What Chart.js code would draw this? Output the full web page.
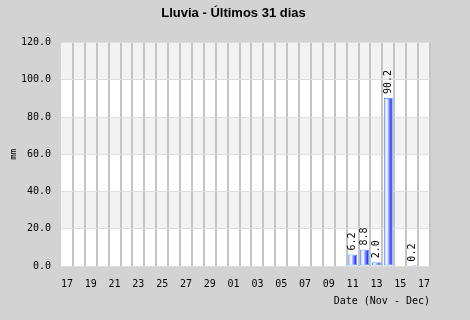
<html>
<head>
    <script src="https://cdn.jsdelivr.net/npm/chart.js"></script>
    <style>
        body { margin: 0; background: #d3d3d3; }
        #wrap { width: 470px; height: 320px; }
    </style>
</head>
<body>
    <div id="wrap"><canvas id="rainChart"></canvas></div>
    <script>
        // dias (17 nov - 17 dic)
        const days = ['17','18','19','20','21','22','23','24','25','26','27','28','29','30',
                      '01','02','03','04','05','06','07','08','09','10','11','12','13','14','15','16','17'];
        // lluvia diaria en mm
        const rain = [0,0,0,0,0,0,0,0,0,0,0,0,0,0,
                      0,0,0,0,0,0,0,0,0,0,6.2,8.8,2.0,90.2,0,0.2,0];
        const yTicks = [0, 20, 40, 60, 80, 100, 120];

        const mono = 'DejaVu Sans Mono';

        // fondo + bandas grises alternas
        const bandsPlugin = {
            id: 'bands',
            beforeDraw(chart) {
                const { ctx, chartArea: a, scales: { y } } = chart;
                ctx.save();
                ctx.fillStyle = '#d3d3d3';
                ctx.fillRect(0, 0, chart.width, chart.height);
                for (let i = 0; i < yTicks.length - 1; i++) {
                    const top = y.getPixelForValue(yTicks[i + 1]);
                    const bot = y.getPixelForValue(yTicks[i]);
                    ctx.fillStyle = (i % 2 == 1) ? '#f2f2f2' : '#ffffff';
                    ctx.fillRect(a.left, top, a.right - a.left, bot - top);
                }
                ctx.restore();
            }
        };

        // valores en vertical encima de las barras
        const valuePlugin = {
            id: 'values',
            afterDatasetsDraw(chart) {
                const { ctx } = chart;
                const meta = chart.getDatasetMeta(0);
                ctx.save();
                ctx.font = '10px "' + mono + '"';
                ctx.fillStyle = '#000';
                ctx.textAlign = 'left';
                ctx.textBaseline = 'middle';
                meta.data.forEach((bar, i) => {
                    if (!rain[i]) return;
                    ctx.save();
                    ctx.translate(bar.x, bar.y - 4);
                    ctx.rotate(-Math.PI / 2);
                    ctx.fillText(rain[i].toFixed(1), 0, 0);
                    ctx.restore();
                });
                ctx.restore();
            }
        };

        function barFill(c) {
            const chart = c.chart;
            if (!chart.chartArea) return '#6677ff';
            const x = chart.scales.x.getPixelForValue(c.dataIndex);
            const w = (chart.chartArea.right - chart.chartArea.left) / days.length * 0.75;
            const g = chart.ctx.createLinearGradient(x - w / 2, 0, x + w / 2, 0);
            g.addColorStop(0, '#8890ff');
            g.addColorStop(0.2, '#e6e6ff');
            g.addColorStop(0.35, '#ffffff');
            g.addColorStop(0.55, '#9aa0ff');
            g.addColorStop(0.8, '#3040ff');
            g.addColorStop(1, '#2030e0');
            return g;
        }

        new Chart(document.getElementById('rainChart'), {
            type: 'bar',
            data: {
                labels: days,
                datasets: [{
                    data: rain,
                    backgroundColor: barFill,
                    borderColor: '#60a0ff',
                    borderWidth: c => (rain[c.dataIndex] < 1 ? 0 : 1),
                    borderSkipped: false,
                    categoryPercentage: 1,
                    barPercentage: 0.75
                }]
            },
            plugins: [bandsPlugin, valuePlugin],
            options: {
                responsive: true,
                maintainAspectRatio: false,
                animation: false,
                layout: { padding: { left: 0, right: 3, top: 0, bottom: 0 } },
                plugins: {
                    legend: { display: false },
                    tooltip: { enabled: false },
                    title: {
                        display: true,
                        text: 'Lluvia - Últimos 31 dias',
                        color: '#000',
                        font: { family: 'Liberation Sans', size: 13, weight: 'bold' },
                        padding: { top: 6, bottom: 21 }
                    }
                },
                scales: {
                    x: {
                        offset: true,
                        border: { display: false },
                        afterFit: s => { s.height = 54; },
                        grid: {
                            offset: true,
                            drawTicks: false,
                            lineWidth: 2,
                            color: c => (c.index == 0 || c.index == days.length) ? 'rgba(0,0,0,0)' : '#c4c4c4'
                        },
                        ticks: {
                            autoSkip: false,
                            maxRotation: 0,
                            padding: 12,
                            color: '#000',
                            font: { family: mono, size: 10 },
                            callback: (v, i) => (i % 2 == 0 ? days[i] : '')
                        },
                        title: {
                            display: true,
                            text: 'Date (Nov - Dec)',
                            align: 'end',
                            color: '#000',
                            font: { family: mono, size: 10 },
                            padding: { top: 13, bottom: 13 }
                        }
                    },
                    y: {
                        min: 0,
                        max: 120,
                        afterFit: s => { s.width = 61; },
                        afterBuildTicks: s => { s.ticks = yTicks.map(v => ({ value: v })); },
                        border: { display: false },
                        grid: { drawTicks: false, color: '#dddddd', lineWidth: 1 },
                        ticks: {
                            padding: 10,
                            color: '#000',
                            font: { family: mono, size: 10 },
                            callback: v => Number(v).toFixed(1)
                        },
                        title: {
                            display: true,
                            text: 'mm',
                            color: '#000',
                            font: { family: mono, size: 9 },
                            padding: { top: 8, bottom: 0 }
                        }
                    },
                    // eje vacio a la derecha: margen derecho del area
                    yR: {
                        position: 'right',
                        afterFit: s => { s.width = 37; },
                        border: { display: false },
                        grid: { display: false },
                        ticks: { display: false }
                    }
                }
            }
        });
    </script>
</body>
</html>
